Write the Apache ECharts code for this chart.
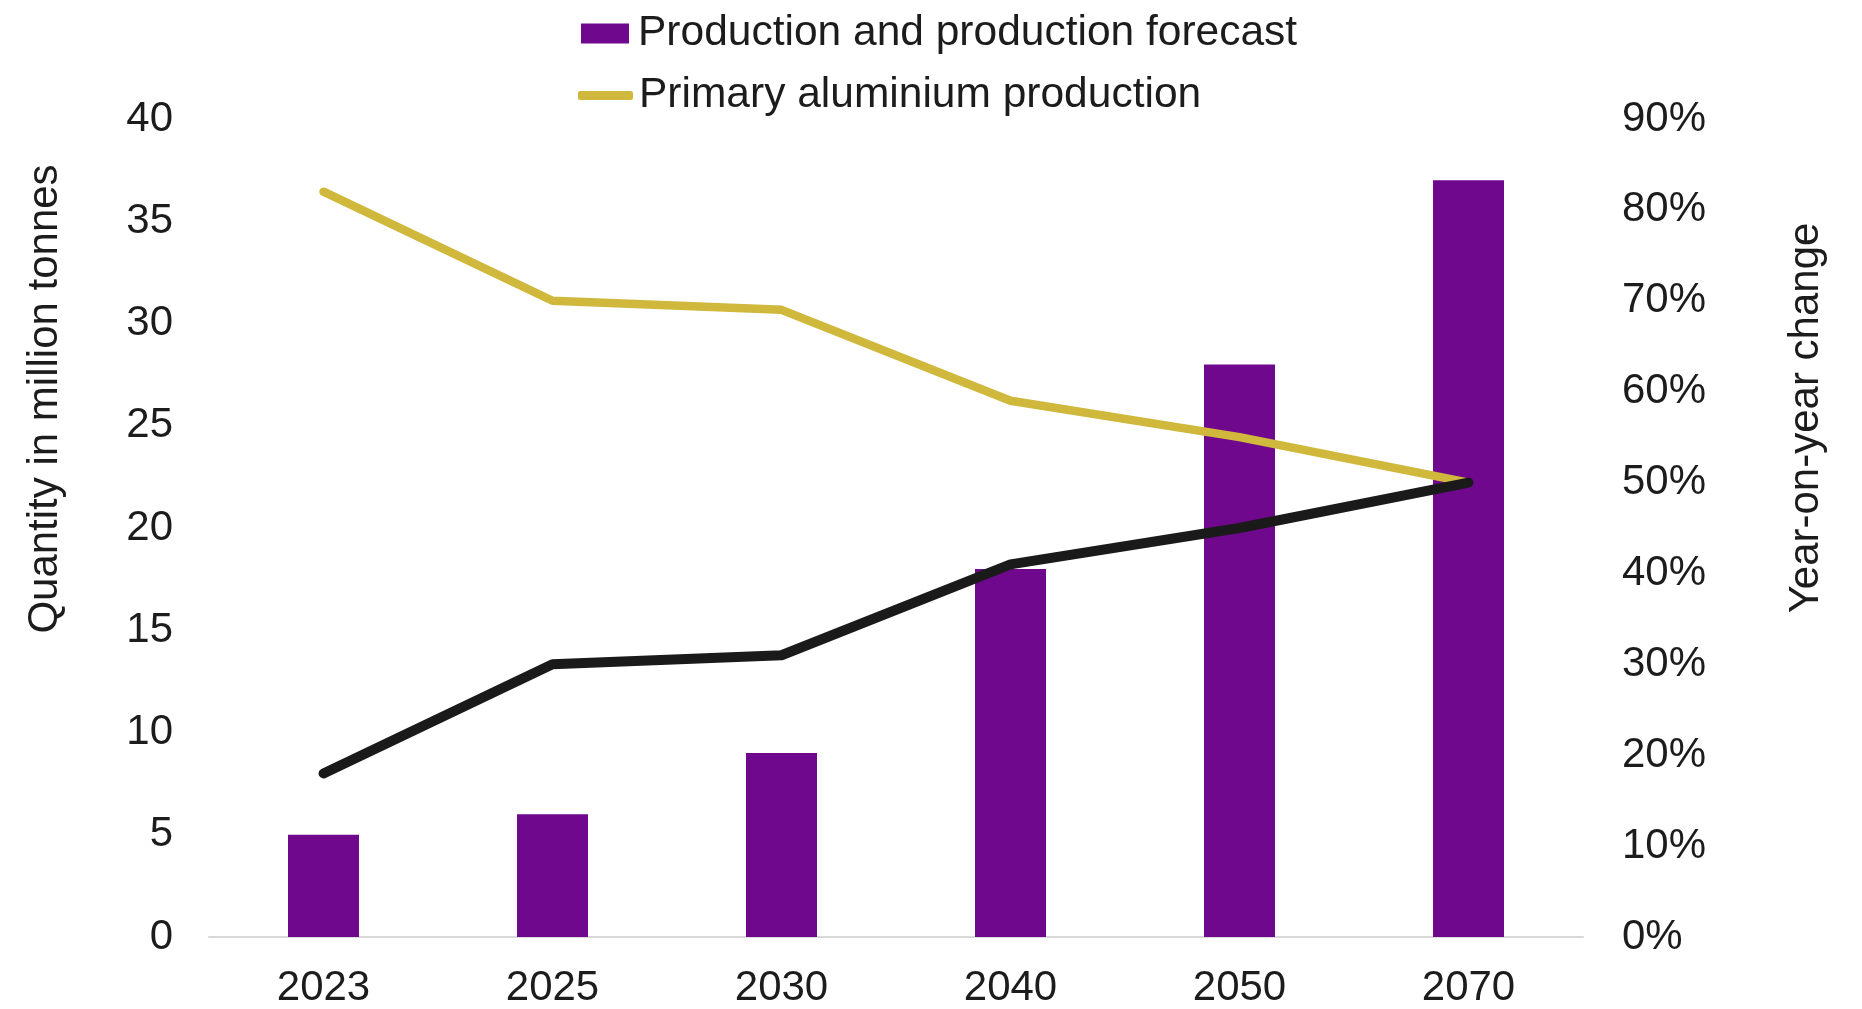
<!DOCTYPE html>
<html>
<head>
<meta charset="utf-8">
<title>Aluminium production and forecast</title>
<script src="https://cdn.jsdelivr.net/npm/echarts@6/dist/echarts.min.js"></script>
<style>
  html, body { margin: 0; padding: 0; background: #ffffff; }
  #chart { width: 1862px; height: 1009px; }
</style>
</head>
<body>
<div id="chart"></div>
<script>
// Years on the category axis
const years = ['2023', '2025', '2030', '2040', '2050', '2070'];
// Total production (million tonnes), left axis
const production = [5, 6, 9, 18, 28, 37];
// Share of primary aluminium in production (%), right axis
const primaryShare = [82, 70, 69, 59, 55, 50];
// Complementary share (%), right axis
const otherShare = [18, 30, 31, 41, 45, 50];

const FONT = '"Liberation Sans", Arial, sans-serif';
const TEXT = '#1c1c1c';
const PURPLE = '#6f088c';
const GOLD = '#cfb83b';
const BLACK = '#1a1a1a';

const chart = echarts.init(document.getElementById('chart'));

chart.setOption({
  animation: false,
  backgroundColor: '#ffffff',
  textStyle: { fontFamily: FONT, color: TEXT },
  grid: { left: 209, right: 279, top: 119, bottom: 71, containLabel: false },
  legend: [
    {
      data: [{ name: 'Production and production forecast', icon: 'rect' }],
      left: 581, top: 12, padding: 0,
      itemWidth: 48, itemHeight: 20, itemGap: 10,
      textStyle: { fontFamily: FONT, fontSize: 42.5, color: TEXT, padding: [0, 0, 0, 4] },
      selectedMode: false
    },
    {
      data: [{ name: 'Primary aluminium production', icon: 'roundRect' }],
      left: 578, top: 74, padding: 0,
      itemWidth: 55, itemHeight: 9, itemGap: 10,
      textStyle: { fontFamily: FONT, fontSize: 42.5, color: TEXT, padding: [0, 0, 0, 1] },
      selectedMode: false
    }
  ],
  xAxis: {
    type: 'category',
    data: years,
    axisLine: { show: true, lineStyle: { color: '#d9d9d9', width: 2 } },
    axisTick: { show: false },
    axisLabel: { fontFamily: FONT, fontSize: 42, color: TEXT, margin: 30 }
  },
  yAxis: [
    {
      type: 'value',
      min: 0, max: 40, interval: 5,
      splitLine: { show: false },
      axisLine: { show: false },
      axisTick: { show: false },
      axisLabel: { fontFamily: FONT, fontSize: 42, color: TEXT, margin: 36 }
    },
    {
      type: 'value',
      min: 0, max: 90, interval: 10,
      position: 'right',
      splitLine: { show: false },
      axisLine: { show: false },
      axisTick: { show: false },
      axisLabel: { fontFamily: FONT, fontSize: 42, color: TEXT, margin: 39, formatter: '{value}%' }
    }
  ],
  graphic: [
    {
      type: 'text',
      x: 45, y: 399, rotation: Math.PI / 2,
      style: {
        text: 'Quantity in million tonnes',
        font: '42px ' + FONT, fill: TEXT,
        align: 'center', verticalAlign: 'middle'
      }
    },
    {
      type: 'text',
      x: 1806, y: 418, rotation: Math.PI / 2,
      style: {
        text: 'Year-on-year change',
        font: '42px ' + FONT, fill: TEXT,
        align: 'center', verticalAlign: 'middle'
      }
    }
  ],
  series: [
    {
      name: 'Production and production forecast',
      type: 'bar',
      yAxisIndex: 0,
      data: production,
      barWidth: 71,
      itemStyle: { color: PURPLE }
    },
    {
      name: 'Primary aluminium production',
      type: 'line',
      yAxisIndex: 1,
      data: primaryShare,
      symbol: 'none',
      itemStyle: { color: GOLD },
      lineStyle: { color: GOLD, width: 8.5, cap: 'round', join: 'round' }
    },
    {
      name: 'Other share',
      type: 'line',
      yAxisIndex: 1,
      data: otherShare,
      symbol: 'none',
      itemStyle: { color: BLACK },
      lineStyle: { color: BLACK, width: 10, cap: 'round', join: 'round' }
    }
  ]
});
</script>
</body>
</html>
